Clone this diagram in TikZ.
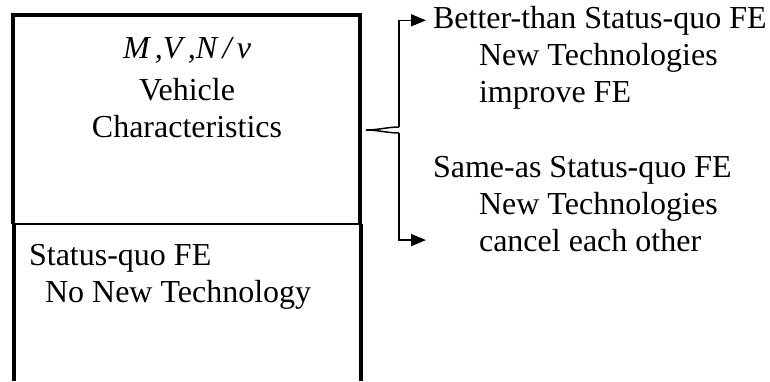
\documentclass[tikz,border=0pt]{standalone}
\usepackage{fontspec}
\setmainfont{Liberation Serif}
\usetikzlibrary{arrows.meta}

\begin{document}
\begin{tikzpicture}[x=0.5pt, y=-0.5pt,
    txt/.style={font=\fontsize{16}{18.5}\selectfont},
    frame/.style={line width=2pt},
    link/.style={line width=0.75pt},
    tip/.style={-{Triangle[length=7.5pt,width=6pt]}}]
    \useasboundingbox (0,0) rectangle (770,381);

    % the two stacked boxes
    \draw[frame] (13,224) -- (13,15) -- (360,15) -- (360,224);
    \draw[line width=0.6pt] (13,224) -- (361,224);
    \draw[frame] (13.5,224) -- (13.5,381);
    \draw[frame] (361,224) -- (361,381);

    \node[txt, anchor=base](mvn)   at (187,58)  {\itshape M\,,V\,,N\,/\,v};
    \node[txt, anchor=base](veh)   at (187,100) {Vehicle};
    \node[txt, anchor=base](char)  at (187,137) {Characteristics};
    \node[txt, anchor=base west](sq)   at (22,265) {Status-quo FE};
    \node[txt, anchor=base west](nonew) at (38,302) {No New Technology};

    % outcomes
    \node[txt, anchor=base west](better) at (426,28)  {Better-than Status-quo FE};
    \node[txt, anchor=base west](newa)   at (472,65)  {New Technologies};
    \node[txt, anchor=base west](impr)   at (472,102) {improve FE};
    \node[txt, anchor=base west](same)   at (426,177) {Same-as Status-quo FE};
    \node[txt, anchor=base west](newb)   at (472,214) {New Technologies};
    \node[txt, anchor=base west](cancel) at (472,251) {cancel each other};

    % brace and arrows
    \coordinate (bt) at (399,127);
    \coordinate (bb) at (399,133);
    \coordinate (bx) at (366,130);
    \draw[link] (bt) .. controls (388,127) and (378,130) .. (bx)
                     .. controls (378,130) and (388,133) .. (bb);
    \draw[link, tip] (bt) |- (better.west);
    \draw[link, tip] (bb) |- (same.west |- cancel.west);
\end{tikzpicture}
\end{document}
